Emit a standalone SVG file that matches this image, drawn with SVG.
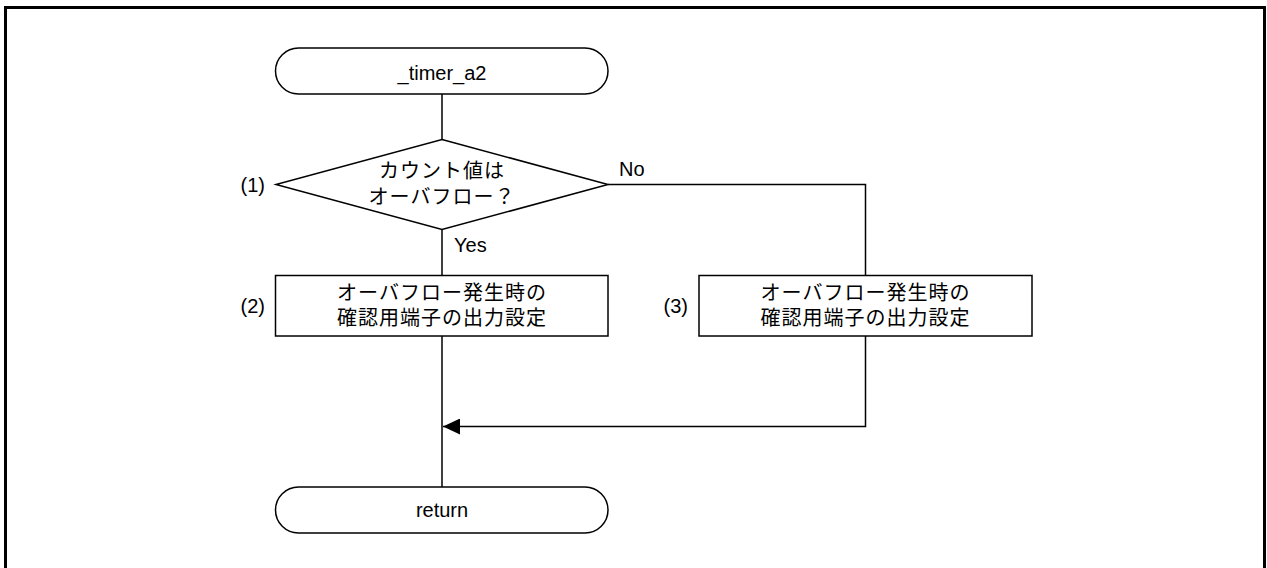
<svg xmlns="http://www.w3.org/2000/svg" width="1267" height="568" viewBox="0 0 1267 568">
<style>
.s{fill:#fff;stroke:#000;stroke-width:1.5}
.c{fill:none;stroke:#000;stroke-width:1.5}
.t{font-family:"Liberation Sans",Arial,"Noto Sans CJK JP",sans-serif;font-size:20px;fill:#000}
.j{font-family:"Liberation Sans",Arial,"Noto Sans CJK JP",sans-serif;font-size:20px;letter-spacing:1px;fill:#000}
.m{text-anchor:middle}
.e{text-anchor:end}
</style>
<defs>
<marker id="ah" markerWidth="17" markerHeight="16" refX="17" refY="8" orient="auto" markerUnits="userSpaceOnUse">
<path d="M0,0 L17,8 L0,16 Z" fill="#000"/>
</marker>
</defs>
<rect x="0" y="0" width="1267" height="568" fill="#fff"/>
<rect x="5.5" y="7.5" width="1259" height="575" fill="none" stroke="#000" stroke-width="3"/>
<g id="connectors">
<path class="c" d="M442,94 V139.5"/>
<path class="c" d="M442,229.5 V275.5"/>
<path class="c" d="M608,184.5 H865.5 V275.5"/>
<path class="c" d="M442,336 V487"/>
<path class="c" d="M865.5,336 V426.5 H443" marker-end="url(#ah)"/>
</g>
<g id="start">
<rect class="s" x="275.5" y="48" width="332.5" height="46" rx="23" ry="23"/>
<text class="t m" x="442" y="80">_timer_a2</text>
</g>
<g id="decision1">
<polygon class="s" points="442,139.5 608,184.5 442,229.5 276,184.5"/>
<text class="j m" x="442" y="178">カウント値は</text>
<text class="j m" x="442" y="204">オーバフロー？</text>
<text class="t e" x="265" y="192">(1)</text>
<text class="t" x="619" y="176">No</text>
<text class="t" x="454" y="252">Yes</text>
</g>
<g id="process2">
<rect class="s" x="275.5" y="275.5" width="332.5" height="60.5"/>
<text class="j m" x="442" y="300">オーバフロー発生時の</text>
<text class="j m" x="442" y="325">確認用端子の出力設定</text>
<text class="t e" x="265" y="313">(2)</text>
</g>
<g id="process3">
<rect class="s" x="699" y="275.5" width="333" height="60.5"/>
<text class="j m" x="865.5" y="300">オーバフロー発生時の</text>
<text class="j m" x="865.5" y="325">確認用端子の出力設定</text>
<text class="t e" x="688" y="313">(3)</text>
</g>
<g id="end">
<rect class="s" x="275.5" y="487" width="332.5" height="46" rx="23" ry="23"/>
<text class="t m" x="442" y="517">return</text>
</g>
</svg>
